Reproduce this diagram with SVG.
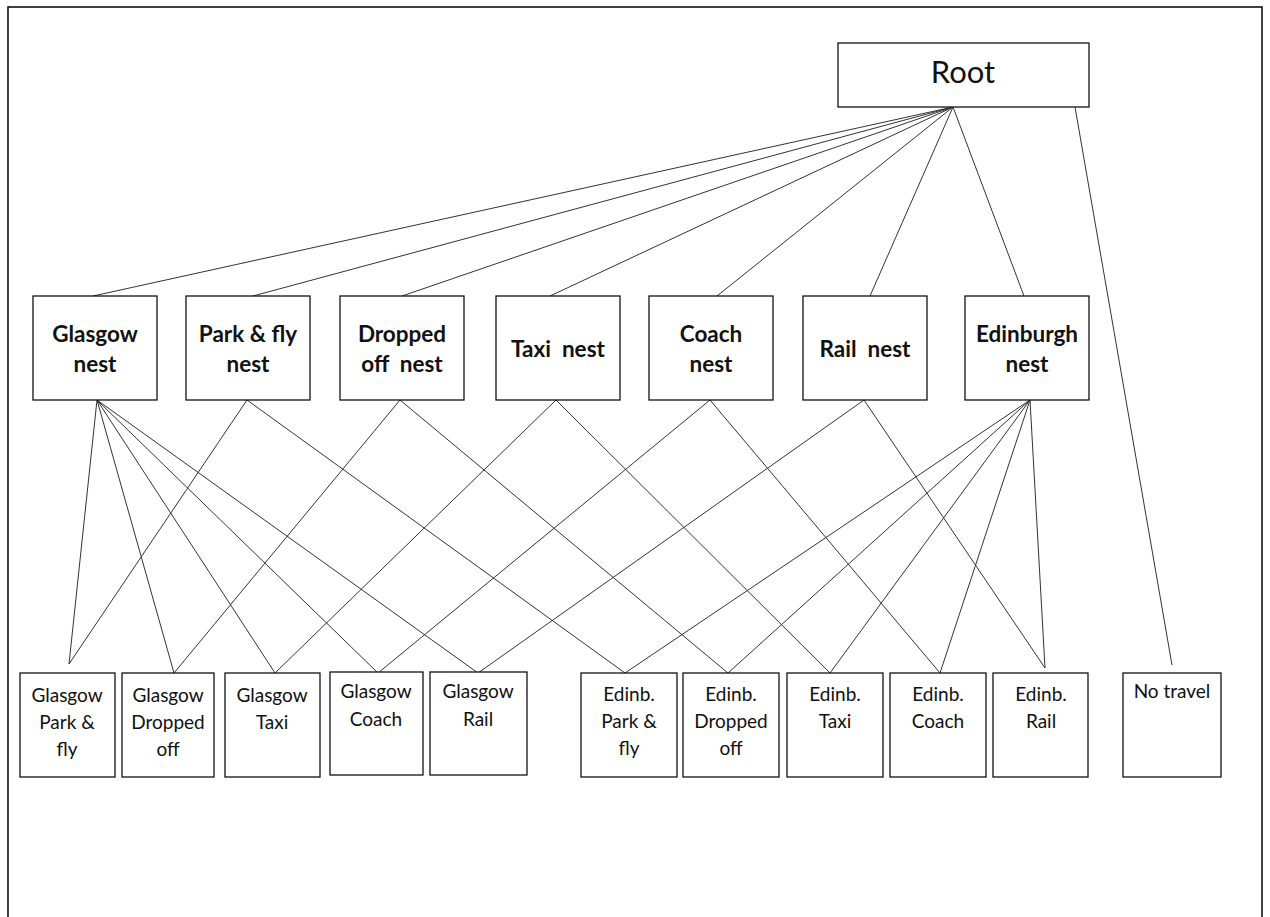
<svg xmlns="http://www.w3.org/2000/svg" width="1270" height="917" viewBox="0 0 1270 917">
<style>
.box{fill:#fff;stroke:#111;stroke-width:1.3}
.frame{fill:none;stroke:#111;stroke-width:1.6}
.c line{stroke:#333;stroke-width:1}
text{white-space:pre}
.root{font-family:Lato,"Open Sans",sans-serif;font-size:31px;fill:#111;text-anchor:middle}
.nest{font-family:Lato,"Open Sans",sans-serif;font-size:22.5px;font-weight:bold;fill:#111;text-anchor:middle}
.leaf{font-family:Lato,"Open Sans",sans-serif;font-size:19px;fill:#111;text-anchor:middle}
</style>
<rect width="1270" height="917" fill="#fff"/>
<rect class="frame" x="8" y="7" width="1254" height="920"/>
<g class="c" id="connectors">
<line x1="953" y1="107" x2="93" y2="296"/>
<line x1="953" y1="107" x2="253" y2="296"/>
<line x1="953" y1="107" x2="402" y2="296"/>
<line x1="953" y1="107" x2="550" y2="296"/>
<line x1="953" y1="107" x2="717" y2="296"/>
<line x1="953" y1="107" x2="870" y2="296"/>
<line x1="953" y1="107" x2="1024" y2="296"/>
<line x1="1075" y1="107" x2="1172" y2="665"/>
<line x1="97" y1="400" x2="69" y2="664"/>
<line x1="97" y1="400" x2="174" y2="673"/>
<line x1="97" y1="400" x2="275" y2="673"/>
<line x1="97" y1="400" x2="378" y2="673"/>
<line x1="97" y1="400" x2="478" y2="673"/>
<line x1="247" y1="400" x2="69" y2="664"/>
<line x1="247" y1="400" x2="625" y2="673"/>
<line x1="400" y1="400" x2="174" y2="673"/>
<line x1="400" y1="400" x2="728" y2="673"/>
<line x1="556" y1="400" x2="275" y2="673"/>
<line x1="556" y1="400" x2="830" y2="673"/>
<line x1="710" y1="400" x2="378" y2="673"/>
<line x1="710" y1="400" x2="940" y2="673"/>
<line x1="864" y1="400" x2="478" y2="673"/>
<line x1="864" y1="400" x2="1045" y2="668"/>
<line x1="1030" y1="400" x2="625" y2="673"/>
<line x1="1030" y1="400" x2="728" y2="673"/>
<line x1="1030" y1="400" x2="830" y2="673"/>
<line x1="1030" y1="400" x2="940" y2="673"/>
<line x1="1030" y1="400" x2="1045" y2="668"/>
</g>
<g id="root"><rect class="box" x="838" y="43" width="251" height="64"/><text class="root" x="963" y="83">Root</text></g>
<g id="glasgow-nest"><rect class="box" x="33" y="296" width="124" height="104"/><text class="nest" x="95" y="342">Glasgow</text><text class="nest" x="95" y="372">nest</text></g>
<g id="parkfly-nest"><rect class="box" x="186" y="296" width="124" height="104"/><text class="nest" x="248" y="342">Park &amp; fly</text><text class="nest" x="248" y="372">nest</text></g>
<g id="dropped-nest"><rect class="box" x="340" y="296" width="124" height="104"/><text class="nest" x="402" y="342">Dropped</text><text class="nest" x="402" y="372" xml:space="preserve">off  nest</text></g>
<g id="taxi-nest"><rect class="box" x="496" y="296" width="124" height="104"/><text class="nest" x="558" y="357" xml:space="preserve">Taxi  nest</text></g>
<g id="coach-nest"><rect class="box" x="649" y="296" width="124" height="104"/><text class="nest" x="711" y="342">Coach</text><text class="nest" x="711" y="372">nest</text></g>
<g id="rail-nest"><rect class="box" x="803" y="296" width="124" height="104"/><text class="nest" x="865" y="357" xml:space="preserve">Rail  nest</text></g>
<g id="edinburgh-nest"><rect class="box" x="965" y="296" width="124" height="104"/><text class="nest" x="1027" y="342">Edinburgh</text><text class="nest" x="1027" y="372">nest</text></g>
<g id="g-parkfly"><rect class="box" x="20" y="673" width="95" height="104"/><text class="leaf" x="67" y="702">Glasgow</text><text class="leaf" x="67" y="729">Park &amp;</text><text class="leaf" x="67" y="756">fly</text></g>
<g id="g-dropped"><rect class="box" x="122" y="673" width="92" height="104"/><text class="leaf" x="168" y="702">Glasgow</text><text class="leaf" x="168" y="729">Dropped</text><text class="leaf" x="168" y="756">off</text></g>
<g id="g-taxi"><rect class="box" x="225" y="673" width="95" height="104"/><text class="leaf" x="272" y="702">Glasgow</text><text class="leaf" x="272" y="729">Taxi</text></g>
<g id="g-coach"><rect class="box" x="330" y="672" width="93" height="103"/><text class="leaf" x="376" y="698">Glasgow</text><text class="leaf" x="376" y="726">Coach</text></g>
<g id="g-rail"><rect class="box" x="430" y="672" width="97" height="103"/><text class="leaf" x="478" y="698">Glasgow</text><text class="leaf" x="478" y="726">Rail</text></g>
<g id="e-parkfly"><rect class="box" x="581" y="673" width="96" height="104"/><text class="leaf" x="629" y="701">Edinb.</text><text class="leaf" x="629" y="728">Park &amp;</text><text class="leaf" x="629" y="755">fly</text></g>
<g id="e-dropped"><rect class="box" x="683" y="673" width="96" height="104"/><text class="leaf" x="731" y="701">Edinb.</text><text class="leaf" x="731" y="728">Dropped</text><text class="leaf" x="731" y="755">off</text></g>
<g id="e-taxi"><rect class="box" x="787" y="673" width="96" height="104"/><text class="leaf" x="835" y="701">Edinb.</text><text class="leaf" x="835" y="728">Taxi</text></g>
<g id="e-coach"><rect class="box" x="890" y="673" width="96" height="104"/><text class="leaf" x="938" y="701">Edinb.</text><text class="leaf" x="938" y="728">Coach</text></g>
<g id="e-rail"><rect class="box" x="993" y="673" width="95" height="104"/><text class="leaf" x="1041" y="701">Edinb.</text><text class="leaf" x="1041" y="728">Rail</text></g>
<g id="no-travel"><rect class="box" x="1123" y="673" width="98" height="104"/><text class="leaf" x="1172" y="698">No travel</text></g>
</svg>
